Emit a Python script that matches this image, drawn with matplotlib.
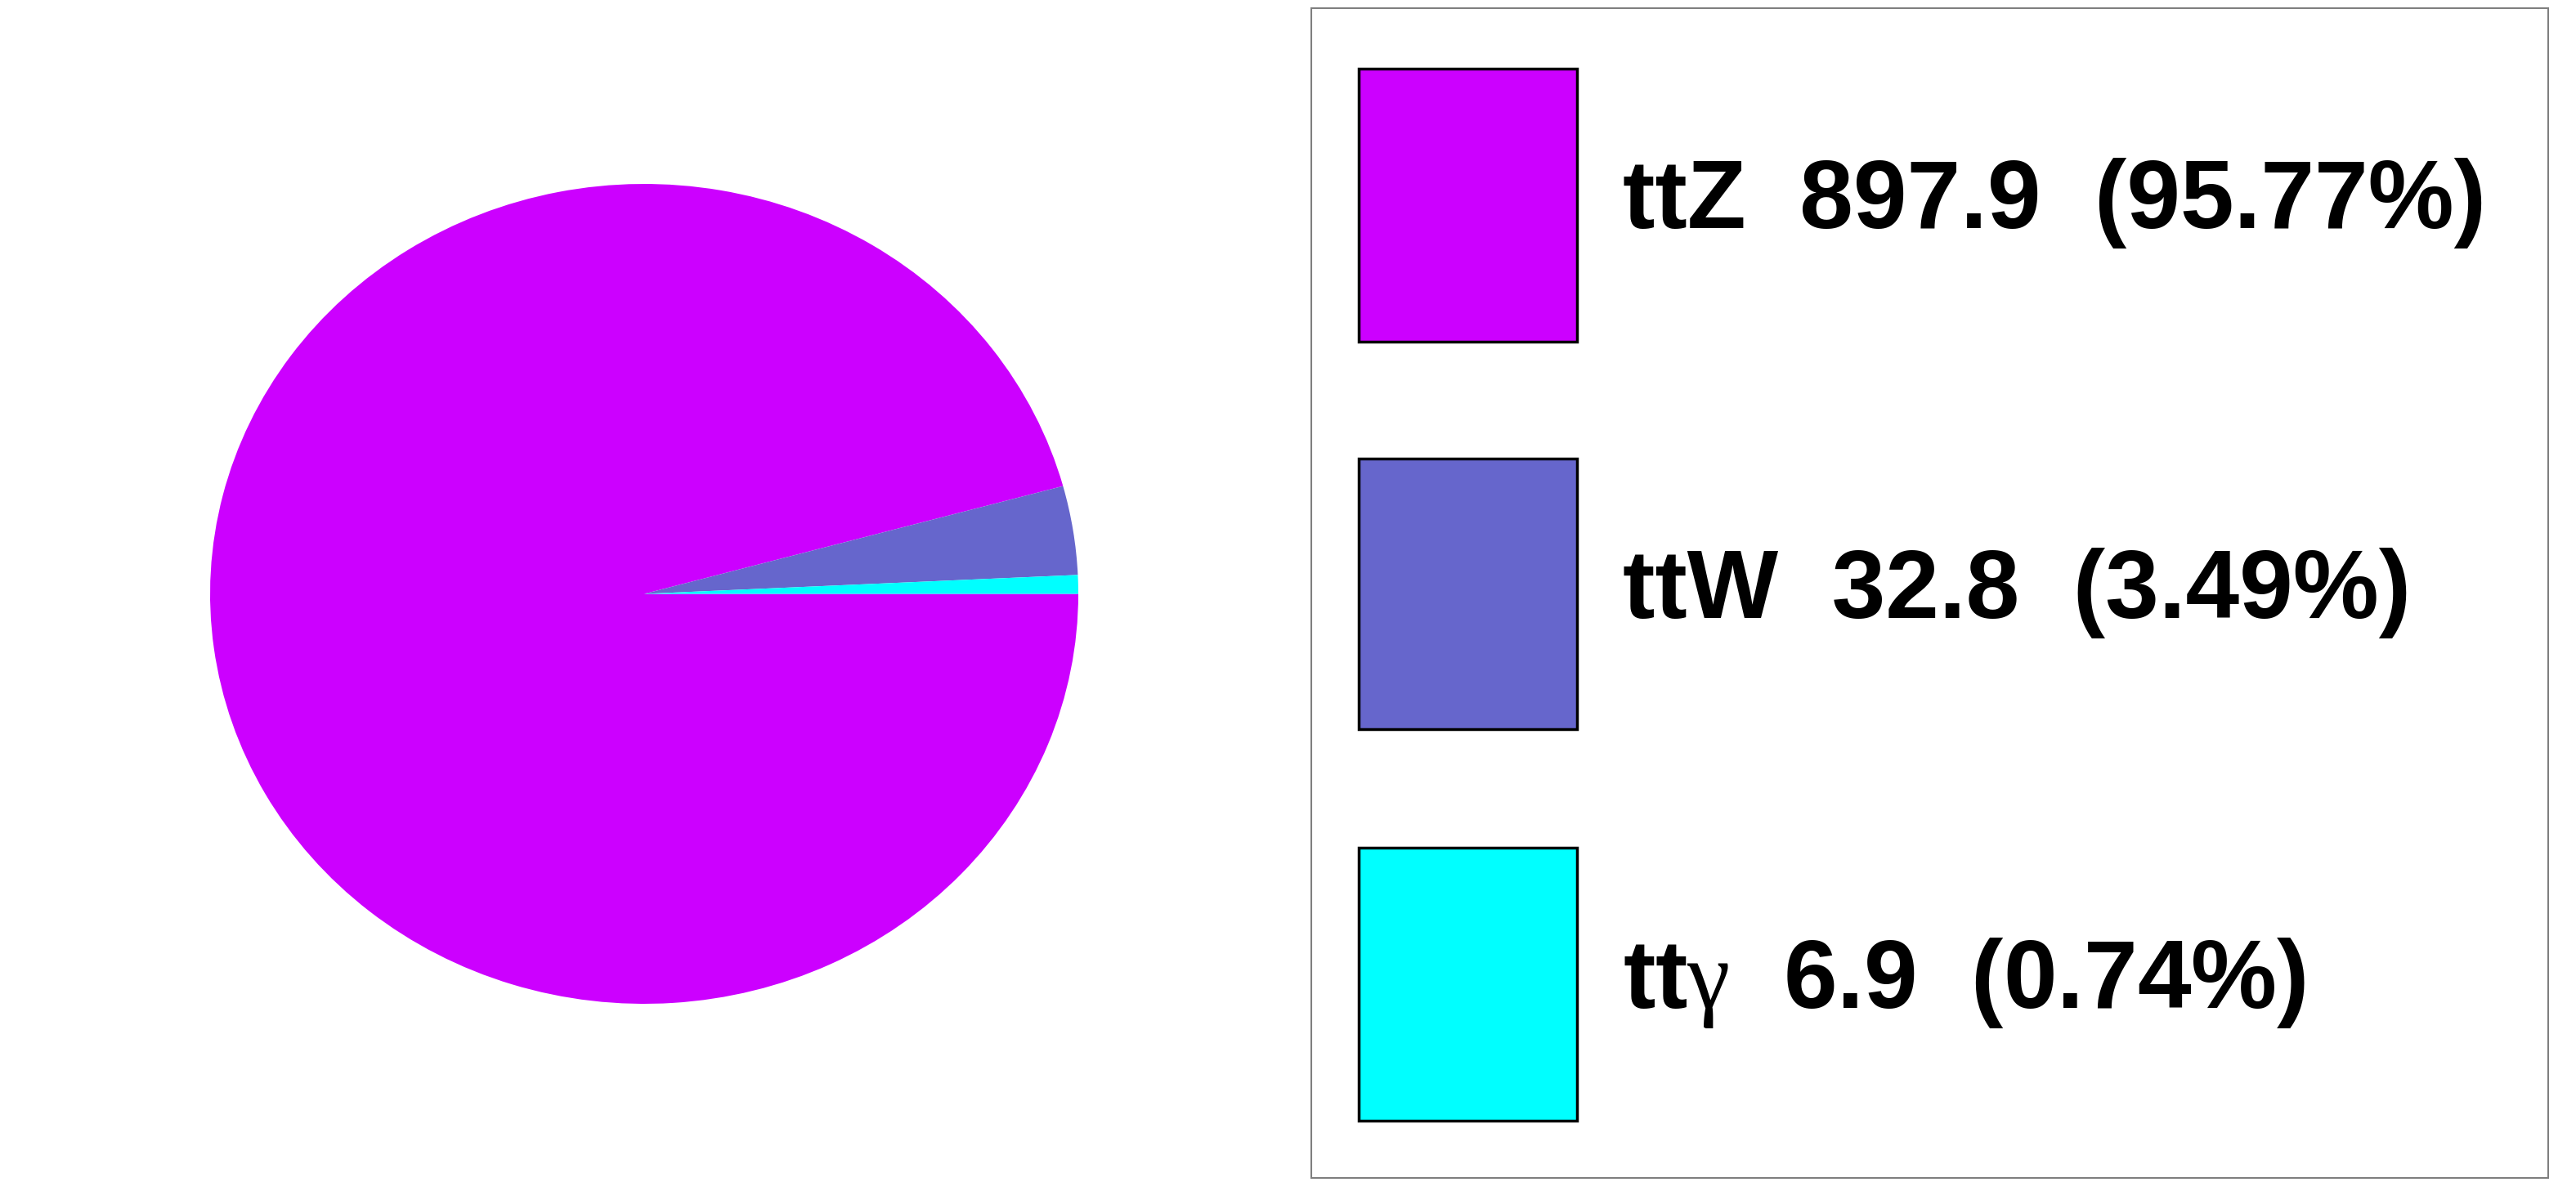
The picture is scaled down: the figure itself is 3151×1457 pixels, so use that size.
import matplotlib
matplotlib.use("Agg")
import matplotlib.pyplot as plt
from matplotlib.patches import Rectangle

# Data
processes = ["ttZ", "ttW", r"tt$\gamma$"]
yields = [897.9, 32.8, 6.9]
percents = [95.77, 3.49, 0.74]
colors = ["#cc00ff", "#6666cc", "#00ffff"]

plt.rcParams["font.family"] = ["Liberation Sans", "DejaVu Sans"]
plt.rcParams["mathtext.fontset"] = "custom"
plt.rcParams["mathtext.rm"] = "Liberation Serif"
plt.rcParams["mathtext.it"] = "Liberation Serif"

W, H = 3151, 1457
fig = plt.figure(figsize=(W / 100, H / 100), dpi=100)


def fx(px):
    return px / W


def fy(py):
    # pixel from top -> figure fraction from bottom
    return 1 - py / H


# Pie (elliptical, like the ROOT canvas)
ax = fig.add_axes([fx(257), fy(1228), fx(1319 - 257), (1228 - 225) / H])
ax.pie(yields, colors=colors, startangle=0, counterclock=False,
       wedgeprops=dict(linewidth=0))
ax.set_aspect("auto")
ax.set_xlim(-1, 1)
ax.set_ylim(-1, 1)
ax.axis("off")

# Legend box
fig.add_artist(Rectangle((fx(1604), fy(1441)), fx(3117 - 1604), (1441 - 10) / H,
                         transform=fig.transFigure, facecolor="white",
                         edgecolor="#7f7f7f", linewidth=1.5, zorder=1))

box_tops = [84, 561, 1037]
box_bottoms = [418, 892, 1371]
baselines = [279, 756, 1233]
for name, val, pct, col, top, bot, base in zip(processes, yields, percents, colors,
                                               box_tops, box_bottoms, baselines):
    fig.add_artist(Rectangle((fx(1662), fy(bot)), fx(1929 - 1662), (bot - top) / H,
                             transform=fig.transFigure, facecolor=col,
                             edgecolor="black", linewidth=2.5, zorder=2))
    fig.text(fx(1985), fy(base), f"{name}  {val:.1f}  ({pct:.2f}%)",
             fontsize=85, fontweight="bold", ha="left", va="baseline", zorder=3)

fig.savefig("out.png", dpi=100)
